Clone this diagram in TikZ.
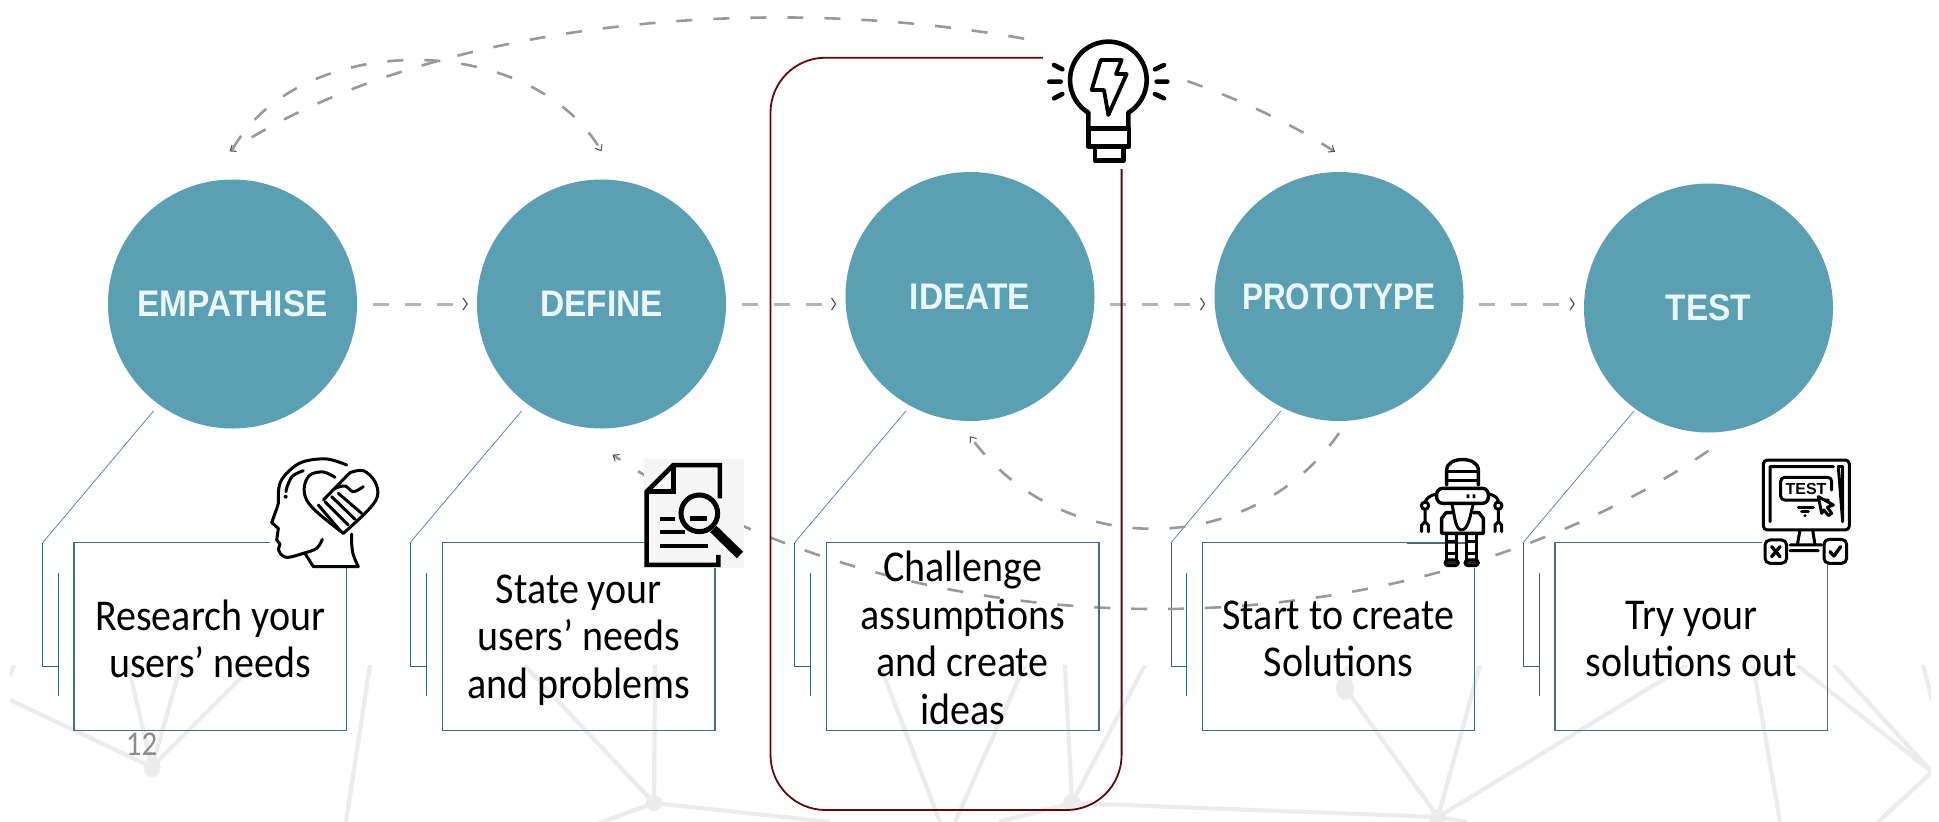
\documentclass[tikz,border=0pt]{standalone}
\usepackage{fontspec}
\setmainfont{Carlito}
\newfontfamily\capsfont[FakeStretch=0.905]{Liberation Sans}
\newfontfamily\icofont{Liberation Sans}
\usetikzlibrary{arrows.meta,calc}
\definecolor{circ}{HTML}{5B9FB2}
\definecolor{captxt}{HTML}{EAF6F8}
\definecolor{boxline}{HTML}{3F7087}
\definecolor{callline}{HTML}{30688F}
\definecolor{flowgrey}{HTML}{B4B4B4}
\definecolor{tipgrey}{HTML}{505050}
\definecolor{wine}{HTML}{620808}
\definecolor{netgrey}{HTML}{ECECEC}
\newcommand{\notetxt}[2][4.5pt]{\scalebox{1}[1.1]{\parbox{272pt}{\vspace*{#1}\centering #2}}}
\tikzset{
  stage/.style={circle,fill=circ,inner sep=0pt,minimum size=249pt,text=captxt,font=\capsfont\bfseries\fontsize{37}{40}\selectfont},
  note/.style={rectangle,draw=boxline,line width=1.3pt,minimum width=272.5pt,minimum height=187.5pt,inner sep=0pt,align=center,font=\fontsize{40}{43.2}\selectfont,text=black},
  flow/.style={draw=flowgrey,line width=3pt,dash pattern=on 16pt off 16pt,-{Straight Barb[length=4pt,width=12pt,line width=1.2pt,color=tipgrey]}},
  flowarc/.style={draw=flowgrey!85!black,line width=2.6pt,dash pattern=on 16pt off 21pt,-{Straight Barb[length=5pt,width=8pt,line width=1pt,color=tipgrey]}},
  gapped/.style={shorten <=15.5pt,shorten >=9pt},
  call/.style={draw=callline,line width=1pt},
  callslant/.style={draw=callline!70!blue!70!white,line width=.8pt},
  net/.style={draw=netgrey,line width=4.2pt},
  ico/.style={draw=black,line width=4.6pt,line join=round,line cap=round},
  icothin/.style={draw=black,line width=3pt,line join=round,line cap=round},
}
\begin{document}
\begin{tikzpicture}[x=1pt,y=-1pt]
\useasboundingbox[fill=white] (0,0) rectangle (1939,822);
% background network
\begin{scope}
\clip (10,665) rectangle (1931,822);
\coordinate (A) at (152,767); \coordinate (B) at (654,803); \coordinate (C) at (1072,803);
\coordinate (D) at (1438,817); \coordinate (E) at (1345,688); \coordinate (R) at (1932,772);
\draw[net] (A)--(10,700) (A)--(128,665) (A)--(181,665) (A)--(254,665) (14,665)--(10,676);
\draw[net] (370,665)--(346,822);
\draw[net] (B)--(524,665) (B)--(655,665) (B)--(580,830) (B)--(830,822);
\draw[net] (880,665)--(940,822) (1025,665)--(955,822);
\draw[net] (C)--(1065,665) (C)--(1145,665) (C)--(998,822) (C)--(D);
\draw[net] (E)--(D) (E)--(1347,665) (D)--(1480,665) (D)--(1687,665) (D)--(1467,822) (D)--(1430,822);
\draw[net] (1753,665)--(1780,822) (1797,665)--(R) (1834,665)--(R) (1923,665)--(1932,700) (R)--(1878,822);
\fill[netgrey] (A) ellipse[x radius=8.5,y radius=10];
\fill[netgrey] (B) circle[radius=8]; \fill[netgrey] (C) circle[radius=9];
\fill[netgrey] (D) circle[radius=8]; \fill[netgrey] (E) ellipse[x radius=9,y radius=12];
\end{scope}
% stages
\node[stage] (empathise) at (232.5,304) {EMPATHISE};
\node[stage] (define) at (601.5,304) {DEFINE};
\node[stage] (ideate) at (970,296.5) {IDEATE};
\node[stage] (prototype) at (1339,296.5) {\scalebox{.94}[1]{PROTOTYPE}};
\node[stage] (test) at (1708.5,308) {TEST};
% callouts
\foreach \a/\b/\c in {153.5/42.7/58,521.6/410/426,906/794.5/810.6,1281/1171/1186.6,1634/1523/1539}{
  \draw[callslant] (\a,411) -- (\b,542.7);
  \draw[call] (\b,542.7) -- (\b,666.7) -- (\c,666.7);
  \draw[call] (\c,573) -- (\c,696);
}
% dashed arcs
\draw[flowarc] ([yshift=30pt]empathise.north) .. controls (300,30) and (530,30) .. ([yshift=28pt]define.north);
\draw[flowarc,dash phase=12pt,{Straight Barb[length=5pt,width=8pt,line width=1pt,color=tipgrey]}-{Straight Barb[length=5pt,width=8pt,line width=1pt,color=tipgrey]}] ([xshift=-3pt,yshift=28pt]empathise.north) .. controls (500,-27) and (1058,-27) .. ([xshift=-4pt,yshift=20pt]prototype.north);
\draw[flowarc] ([yshift=-12pt]prototype.south) .. controls (1250,560) and (1060,560) .. ([yshift=-15pt]ideate.south);
\draw[flowarc] ([yshift=-18pt]test.south) .. controls (1400,661) and (920,661) .. ([shift={(11pt,-26pt)}]define.south);
% straight flows
\draw[flow,gapped] (empathise.east) -- (define.west);
\draw[flow,gapped] (define.east) -- ([yshift=-7.5pt]ideate.west);
\draw[flow,gapped] ([yshift=-7.5pt]ideate.east) -- ([yshift=-7.5pt]prototype.west);
\draw[flow,gapped] ([yshift=-7.5pt]prototype.east) -- ([yshift=4pt]test.west);
% focus frame
\draw[wine,line width=1.8pt] (825.5,57.7) -- (1066.6,57.7) arc[start angle=270,end angle=360,radius=55] -- (1121.6,755) arc[start angle=0,end angle=90,radius=55] -- (825.5,810) arc[start angle=90,end angle=180,radius=55] -- (770.5,112.7) arc[start angle=180,end angle=270,radius=55] -- cycle;
% note boxes
\node[note] (n1) at (210.2,636.4) {\notetxt{Research your\\ users’ needs}};
\node[note] (n2) at (578.8,636.4) {\notetxt[7pt]{State your\\ users’ needs\\ and problems}};
\node[note] (n3) at (962.7,636.4) {\notetxt[3pt]{Challenge\\ assumptions\\ and create\\ ideas}};
\node[note] (n4) at (1338.5,636.4) {\notetxt{Start to create\\ Solutions}};
\node[note] (n5) at (1691.3,636.4) {\notetxt{Try your\\ solutions out}};
\node[text=black!45,font=\fontsize{31}{36}\selectfont,inner sep=0pt] (pageno) at (141.5,744) {\scalebox{1}[1.12]{12}};
% patches behind the icons
\fill[white] (1043,28) rectangle (1183,169);
\fill[white] (270,455) rectangle (360,568);
\fill[black!4] (643.5,459) rectangle (744,568);
\fill[white] (1407,458) rectangle (1489,568);
\draw[boxline,line width=1.6pt] (1407,543) -- (1465,543);
\fill[white] (1762,455) rectangle (1850,564);
% bulb
\begin{scope}[shift={(1030,30)},x=.3333pt,y=-.3333pt]
\draw[ico] (175,248) arc[start angle=121.5,end angle=418.5,radius=115] -- (295,295) -- (175,295) -- (175,248);
\draw[ico] (175,295) rectangle (297,350);
\draw[ico] (195,350) rectangle (280,392);
\draw[ico,line width=3.8pt] (212,90) -- (275,90) -- (258,132) -- (290,132) -- (235,255) -- (222,180) -- (185,180) -- cycle;
\draw[ico] (72,105)--(97,118) (58,155)--(92,155) (72,205)--(97,192) (375,118)--(402,105) (380,155)--(412,155) (375,192)--(402,205);
\end{scope}
% head and heart
\begin{scope}[shift={(260,450)},x=.3333pt,y=-.3333pt]
\draw[icothin] plot[smooth,tension=.6] coordinates {(260,45) (200,27) (130,35) (88,62) (62,95) (55,130) (55,160) (45,190) (35,218)};
\draw[icothin] (35,218) -- (55,235) -- (50,270) -- (60,282) -- (55,298);
\draw[icothin] plot[smooth,tension=.6] coordinates {(55,298) (65,315) (85,322) (130,310) (170,295) (187,268)};
\draw[icothin] (135,310) -- (160,350) -- (295,350);
\draw[icothin] plot[smooth,tension=.6] coordinates {(295,350) (280,315) (275,280) (275,252)};
\draw[icothin] plot[smooth,tension=.6] coordinates {(130,62) (98,78) (82,108) (78,125)};
\fill (77,140) circle[radius=6];
\draw[icothin] plot[smooth,tension=.6] coordinates {(225,82) (190,66) (150,75) (133,110) (140,150) (175,190) (250,250)};
\draw[icothin] plot[smooth,tension=.6] coordinates {(250,250) (320,185) (352,140) (345,95) (310,62) (270,68)};
\draw[icothin] (270,68) -- (190,150);
\draw[icothin] plot[smooth,tension=.6] coordinates {(225,115) (255,108) (280,125) (310,110)};
\draw[icothin] (175,165) -- (243,245) (195,155) -- (265,225) (215,140) -- (285,208) (235,130) -- (305,190);
\end{scope}
% document and magnifier
\begin{scope}[shift={(630,450)},x=.3333pt,y=-.3333pt]
\draw[black,line width=4.5pt,line join=miter] (270,145) -- (270,45) -- (130,45) -- (50,125) -- (50,345) -- (265,345) -- (265,315);
\draw[black,line width=4.5pt] (130,45) -- (130,125) -- (50,125);
\draw[black,line width=4pt] (90,207) -- (135,207) (90,245) -- (165,245) (90,287) -- (235,287);
\draw[black,line width=5pt] (208,190) circle[radius=55];
\draw[black,line width=5.5pt] (180,205) -- (230,205);
\draw[black,line width=9pt] (250,237) -- (330,315);
\end{scope}
% robot
\begin{scope}[shift={(1410,470)},x=.3333pt,y=-.3333pt]
\draw[icothin,line width=3.4pt] (110,45) -- (110,0) .. controls (110,-42) and (205,-42) .. (205,0) -- (205,45);
\draw[icothin] (110,5) -- (205,5) (110,32) -- (205,32);
\draw[icothin,line width=3.4pt,rounded corners=6pt] (80,55) rectangle (235,100);
\fill (170,73) rectangle (178,84) (188,73) rectangle (196,84);
\draw[icothin] (80,72) .. controls (60,75) and (50,85) .. (45,97);
\draw[icothin] (235,72) .. controls (255,75) and (265,85) .. (265,97);
\draw[icothin] (45,107) circle[radius=11] (265,107) circle[radius=11];
\draw[icothin] (45,118) -- (45,155) (35,185) -- (35,165) -- (45,155) -- (55,165) -- (55,185);
\draw[icothin] (265,118) -- (265,155) (255,185) -- (255,165) -- (265,155) -- (275,165) -- (275,185);
\draw[icothin,line width=3.4pt] (125,128) -- (108,128) -- (95,145) -- (95,190) -- (220,190) -- (220,145) -- (207,128) -- (190,128);
\draw[icothin] (125,100) .. controls (135,140) and (135,178) .. (155,180) .. controls (175,178) and (180,140) .. (190,100);
\draw[icothin] (110,190) -- (110,285) (140,190) -- (140,285) (170,190) -- (170,285) (200,190) -- (200,285);
\draw[icothin] (110,215) -- (140,215) (110,250) -- (140,250) (170,215) -- (200,215) (170,250) -- (200,250);
\draw[icothin,rounded corners=3pt,fill=black!85] (105,287) -- (105,270) -- (145,270) -- (145,287) -- cycle;
\draw[icothin,rounded corners=3pt,fill=black!85] (165,287) -- (165,270) -- (205,270) -- (205,287) -- cycle;
\end{scope}
% test monitor
\begin{scope}[shift={(1750,450)},x=.3333pt,y=-.3333pt]
\draw[icothin,rounded corners=4pt] (40,240) -- (40,30) -- (298,30) -- (298,240) -- cycle;
\draw[icothin] (60,215) -- (60,50) -- (250,50) (265,50) -- (278,50) -- (278,215) -- cycle;
\draw[icothin,rounded corners=4pt] (235,150) -- (92,150) -- (92,82) -- (245,82) -- (245,120);
\node[font=\icofont\bfseries\fontsize{16}{16}\selectfont,text=black,inner sep=0pt] (testword) at (168,117) {TEST};
\draw[icothin] (145,172) -- (190,172) (155,185) -- (175,185);
\fill (165,197) circle[radius=5];
\draw[icothin,fill=white] (205,140) -- (250,165) -- (232,172) -- (245,190) -- (235,197) -- (222,180) -- (215,190) -- cycle;
\draw[icothin] (150,240) -- (142,285) (188,240) -- (195,285) (120,285) -- (215,285) (120,302) -- (205,302);
\draw[icothin,rounded corners=5pt,fill=white] (45,270) rectangle (110,340);
\draw[icothin,line width=3.4pt] (65,290) -- (90,320) (90,290) -- (65,320);
\draw[icothin,rounded corners=5pt,fill=white] (222,268) rectangle (290,340);
\draw[icothin,line width=3.4pt] (240,305) -- (252,318) -- (272,290);
\end{scope}
\end{tikzpicture}
\end{document}
